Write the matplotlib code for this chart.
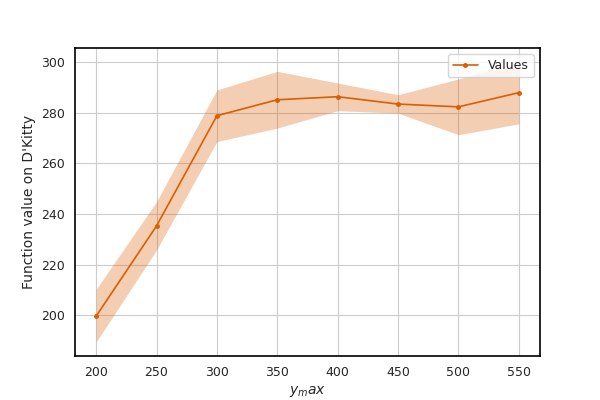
import matplotlib
matplotlib.use('Agg')
import matplotlib.pyplot as plt
import seaborn as sns
import numpy as np

sns.set_style("white")

# y_max settings and mean function values
ymax_vals = [200, 250, 300, 350, 400, 450, 500, 550]
mean_vals = [199.7, 235.3, 278.8, 285.1, 286.3, 283.4, 282.3, 287.9]
upper_vals = [210.3, 244.9, 289.0, 296.3, 291.7, 287.1, 293.3, 300.0]
lower_vals = [189.5, 225.8, 268.6, 273.9, 280.8, 279.8, 271.3, 275.6]

color = '#d95f02'

fig = plt.figure(figsize=(6, 4), dpi=100)
ax = fig.add_subplot(111)
ax.plot(ymax_vals, mean_vals, marker='o', markersize=2.5, color=color, linewidth=1.2, label='Values')
ax.fill_between(ymax_vals, lower_vals, upper_vals, color=color, alpha=0.3, linewidth=0)

ax.grid(True, color='#cccccc')
for s in ax.spines.values():
    s.set_color('black')
    s.set_linewidth(1.2)
ax.tick_params(labelsize=9)

ax.set_xlabel('$y_max$', fontsize=10)
ax.set_ylabel("Function value on D'Kitty", fontsize=10)
ax.legend(loc='upper right', fontsize=9)

plt.savefig('out.png', dpi=100)
plt.close()
